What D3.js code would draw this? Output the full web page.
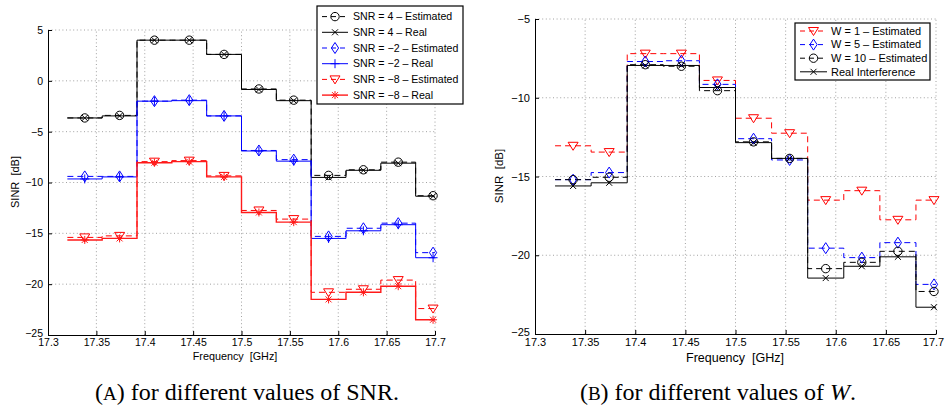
<!DOCTYPE html>
<html>
<head>
<meta charset="utf-8">
<script src="https://cdn.jsdelivr.net/npm/d3@7"></script>
<style>
  html, body { margin: 0; padding: 0; background: #fff; }
  svg { display: block; }
</style>
</head>
<body>
<svg id="chart" width="945" height="409"></svg>
<script>
// ---------------- DATA ----------------
// channel edges (GHz) and channel centres (marker positions)
const channelEdges = [17.32, 17.356, 17.392, 17.428, 17.464, 17.5, 17.536, 17.572, 17.608, 17.644, 17.68, 17.716];
const channelCenters = [17.338, 17.374, 17.41, 17.446, 17.482, 17.518, 17.554, 17.59, 17.626, 17.662, 17.698];

const xTicks = [17.3, 17.35, 17.4, 17.45, 17.5, 17.55, 17.6, 17.65, 17.7];
const xTickLabels = ["17.3", "17.35", "17.4", "17.45", "17.5", "17.55", "17.6", "17.65", "17.7"];
const yTicksA = [5, 0, -5, -10, -15, -20, -25];
const yTicksB = [-5, -10, -15, -20, -25];

// (A) different SNR values
const snr4Estimated  = [-3.65, -3.4, 4.0, 4.0, 2.6, -0.8, -1.9, -9.3, -8.75, -8.0, -11.3];
const snr4Real       = [-3.65, -3.45, 4.0, 4.0, 2.6, -0.85, -1.95, -9.5, -8.8, -8.1, -11.35];
const snrM2Estimated = [-9.4, -9.4, -2.0, -1.9, -3.45, -6.85, -7.75, -15.3, -14.5, -14.0, -16.9];
const snrM2Real      = [-9.65, -9.45, -2.0, -1.95, -3.45, -6.9, -7.9, -15.5, -14.75, -14.15, -17.4];
const snrM8Estimated = [-15.4, -15.25, -7.95, -7.85, -9.35, -12.75, -13.6, -20.8, -20.5, -19.6, -22.4];
const snrM8Real      = [-15.65, -15.5, -8.05, -7.95, -9.45, -12.95, -13.9, -21.5, -20.8, -20.2, -23.5];
const legendA = ["SNR = 4 \u2013 Estimated", "SNR = 4 \u2013 Real", "SNR = \u22122 \u2013 Estimated",
                 "SNR = \u22122 \u2013 Real", "SNR = \u22128 \u2013 Estimated", "SNR = \u22128 \u2013 Real"];

// (B) different W values
const w1Estimated  = [-13.05, -13.45, -7.2, -7.2, -8.9, -11.3, -12.25, -16.5, -15.9, -17.75, -16.5];
const w5Estimated  = [-15.2, -14.75, -7.7, -7.65, -9.15, -12.6, -13.95, -19.55, -20.15, -19.2, -21.85];
const w10Estimated = [-15.2, -15.05, -7.9, -8.0, -9.55, -12.8, -13.85, -20.85, -20.45, -19.75, -22.3];
const realInterference = [-15.6, -15.4, -7.95, -7.95, -9.35, -12.85, -13.85, -21.45, -20.7, -20.1, -23.3];
const legendB = ["W = 1 \u2013 Estimated", "W = 5 \u2013 Estimated", "W = 10 \u2013 Estimated", "Real Interference"];

// ---------------- STYLES ----------------
const DASH = "6,4";
const seriesA = [
  { values: snr4Estimated,  color: "#000", dash: DASH, marker: "o", width: 1 },
  { values: snr4Real,       color: "#000", dash: null, marker: "x", width: 1 },
  { values: snrM2Estimated, color: "#0000ff", dash: DASH, marker: "d", width: 1 },
  { values: snrM2Real,      color: "#0000ff", dash: null, marker: "+", width: 1 },
  { values: snrM8Estimated, color: "#ff0000", dash: DASH, marker: "v", width: 1 },
  { values: snrM8Real,      color: "#ff1a1a", dash: null, marker: "*", width: 1.4 }
];
const seriesB = [
  { values: w1Estimated,  color: "#ff0000", dash: DASH, marker: "v", width: 1 },
  { values: w5Estimated,  color: "#0000ff", dash: DASH, marker: "d", width: 1 },
  { values: w10Estimated, color: "#000", dash: DASH, marker: "o", width: 1 },
  { values: realInterference, color: "#000", dash: null, marker: "x", width: 1 }
];

const svg = d3.select("#chart");
const SANS = "'Liberation Sans', Arial, Helvetica, sans-serif";

const markerPaths = {
  o: null,
  x: "M-3,-3L3,3M-3,3L3,-3",
  d: "M0,-5.5L3.6,0L0,5.5L-3.6,0Z",
  "+": "M-4.5,0H4.5M0,-4.5V4.5",
  v: "M-5,-3.5L5,-3.5L0,4.5Z",
  "*": "M-4,0H4M0,-4V4M-3,-3L3,3M-3,3L3,-3"
};

function drawMarker(g, type, x, y, color) {
  if (type === "o") {
    g.append("circle").attr("cx", x).attr("cy", y).attr("r", 4.2)
      .attr("fill", "none").attr("stroke", color).attr("stroke-width", 1);
  } else {
    g.append("path").attr("d", markerPaths[type]).attr("transform", `translate(${x},${y})`)
      .attr("fill", "none").attr("stroke", color).attr("stroke-width", 1);
  }
}

function drawPanel(opt) {
  const { x, y, xTickVals, yTickVals, series, id, tickFont, lastXShift } = opt;
  const g = svg.append("g");
  const [x0, x1] = x.range();
  const [y0, y1] = y.range(); // y0 bottom, y1 top

  // grid
  const grid = g.append("g").attr("stroke", "#8a8a8a").attr("stroke-width", 0.8)
    .attr("stroke-dasharray", "1,2.6");
  xTickVals.forEach(v => {
    if (Math.abs(x(v) - x0) > 1)
      grid.append("line").attr("x1", x(v)).attr("x2", x(v)).attr("y1", y0).attr("y2", y1);
  });
  yTickVals.forEach(v => {
    if (Math.abs(y(v) - y0) > 1)
      grid.append("line").attr("x1", x0).attr("x2", x1).attr("y1", y(v)).attr("y2", y(v));
  });

  // clip
  svg.append("clipPath").attr("id", id).append("rect")
    .attr("x", x0).attr("y", y1 - 10).attr("width", x1 - x0).attr("height", y0 - y1 + 20);
  const plot = g.append("g").attr("clip-path", `url(#${id})`);

  const line = d3.line().x(d => x(d[0])).y(d => y(d[1])).curve(d3.curveStepAfter);
  series.forEach(s => {
    const pts = s.values.map((v, i) => [channelEdges[i], v]);
    pts.push([channelEdges[channelEdges.length - 1], s.values[s.values.length - 1]]);
    plot.append("path").attr("d", line(pts)).attr("fill", "none")
      .attr("stroke", s.color).attr("stroke-width", s.width)
      .attr("stroke-dasharray", s.dash);
  });
  const mg = g.append("g");
  series.forEach(s => {
    s.values.forEach((v, i) => drawMarker(mg, s.marker, x(channelCenters[i]), y(v), s.color));
  });

  // axes
  const ax = g.append("g").attr("transform", `translate(0,${y0})`)
    .call(d3.axisBottom(x).tickValues(xTickVals).tickFormat((d, i) => xTickLabels[i])
      .tickSizeInner(-4).tickSizeOuter(0).tickPadding(4));
  const ay = g.append("g").attr("transform", `translate(${x0},0)`)
    .call(d3.axisLeft(y).tickValues(yTickVals).tickSizeInner(-4).tickSizeOuter(0).tickPadding(5));
  [ax, ay].forEach(a => {
    a.attr("font-family", SANS).attr("font-size", tickFont);
    a.selectAll("path.domain").attr("stroke", "#000").attr("stroke-width", 1);
    a.selectAll(".tick line").attr("stroke", "#000");
    a.selectAll("text").attr("fill", "#000");
  });
  // lift the lowest y label a little so it clears the first x label
  ay.selectAll(".tick text").filter(d => d === yTickVals[yTickVals.length - 1]).attr("dy", "0.1em");
  if (lastXShift) {
    ax.selectAll(".tick text").filter(d => d === xTickVals[xTickVals.length - 1]).attr("dx", lastXShift);
  }
  return g;
}

function drawLegend(opt) {
  const { box, entries, series, y0, step, lx0, lx1, tx, font } = opt;
  const g = svg.append("g");
  g.append("rect").attr("x", box[0]).attr("y", box[1]).attr("width", box[2]).attr("height", box[3])
    .attr("fill", "#fff").attr("stroke", "#000").attr("stroke-width", 1.2);
  entries.forEach((label, i) => {
    const s = series[i];
    const yy = y0 + i * step;
    g.append("line").attr("x1", lx0).attr("x2", lx1).attr("y1", yy).attr("y2", yy)
      .attr("stroke", s.color).attr("stroke-width", s.width).attr("stroke-dasharray", s.dash ? "5,4" : null);
    drawMarker(g, s.marker, (lx0 + lx1) / 2, yy, s.color);
    g.append("text").attr("x", tx).attr("y", yy).attr("dy", "0.35em")
      .attr("font-family", SANS).attr("font-size", font).attr("fill", "#000").text(label);
  });
}

// ---------------- PANEL A ----------------
const xA = d3.scaleLinear().domain([17.3, 17.7]).range([48, 435]);
const yA = d3.scaleLinear().domain([-25, 5]).range([335, 30]);
drawPanel({ x: xA, y: yA, xTickVals: xTicks, yTickVals: yTicksA, series: seriesA, id: "clipA", tickFont: 10.5 });
drawLegend({ box: [317, 6, 146, 98], entries: legendA, series: seriesA, y0: 16.6, step: 15.7,
             lx0: 322, lx1: 348, tx: 353, font: 10.6 });
svg.append("text").attr("transform", "translate(19,182) rotate(-90)").attr("text-anchor", "middle")
  .attr("font-family", SANS).attr("font-size", 11).attr("xml:space", "preserve").text("SINR  [dB]");
svg.append("text").attr("x", 235).attr("y", 360).attr("text-anchor", "middle")
  .attr("font-family", SANS).attr("font-size", 10.8).attr("xml:space", "preserve").text("Frequency  [GHz]");

// ---------------- PANEL B ----------------
const xB = d3.scaleLinear().domain([17.3, 17.7]).range([535, 936]);
const yB = d3.scaleLinear().domain([-25, -5]).range([334, 19]);
drawPanel({ x: xB, y: yB, xTickVals: xTicks, yTickVals: yTicksB, series: seriesB, id: "clipB", tickFont: 11, lastXShift: -3 });
drawLegend({ box: [795, 23, 135, 57], entries: legendB, series: seriesB, y0: 31, step: 13.6,
             lx0: 800, lx1: 827, tx: 831, font: 11 });
svg.append("text").attr("transform", "translate(503,176) rotate(-90)").attr("text-anchor", "middle")
  .attr("font-family", SANS).attr("font-size", 11.5).attr("xml:space", "preserve").text("SINR  [dB]");
svg.append("text").attr("x", 735).attr("y", 362).attr("text-anchor", "middle")
  .attr("font-family", SANS).attr("font-size", 12.5).attr("xml:space", "preserve").text("Frequency  [GHz]");

// ---------------- CAPTIONS ----------------
const SERIF = "'Liberation Serif', 'Times New Roman', serif";
const capA = svg.append("text").attr("x", 247).attr("y", 400).attr("text-anchor", "middle")
  .attr("font-family", SERIF).attr("font-size", 24).attr("fill", "#000");
capA.append("tspan").text("(");
capA.append("tspan").attr("font-size", 19).text("A");
capA.append("tspan").text(") for different values of SNR.");
const capB = svg.append("text").attr("x", 718).attr("y", 400).attr("text-anchor", "middle")
  .attr("font-family", SERIF).attr("font-size", 24).attr("fill", "#000");
capB.append("tspan").text("(");
capB.append("tspan").attr("font-size", 19).text("B");
capB.append("tspan").text(") for different values of ");
capB.append("tspan").attr("font-style", "italic").text("W");
capB.append("tspan").text(".");
</script>
</body>
</html>
